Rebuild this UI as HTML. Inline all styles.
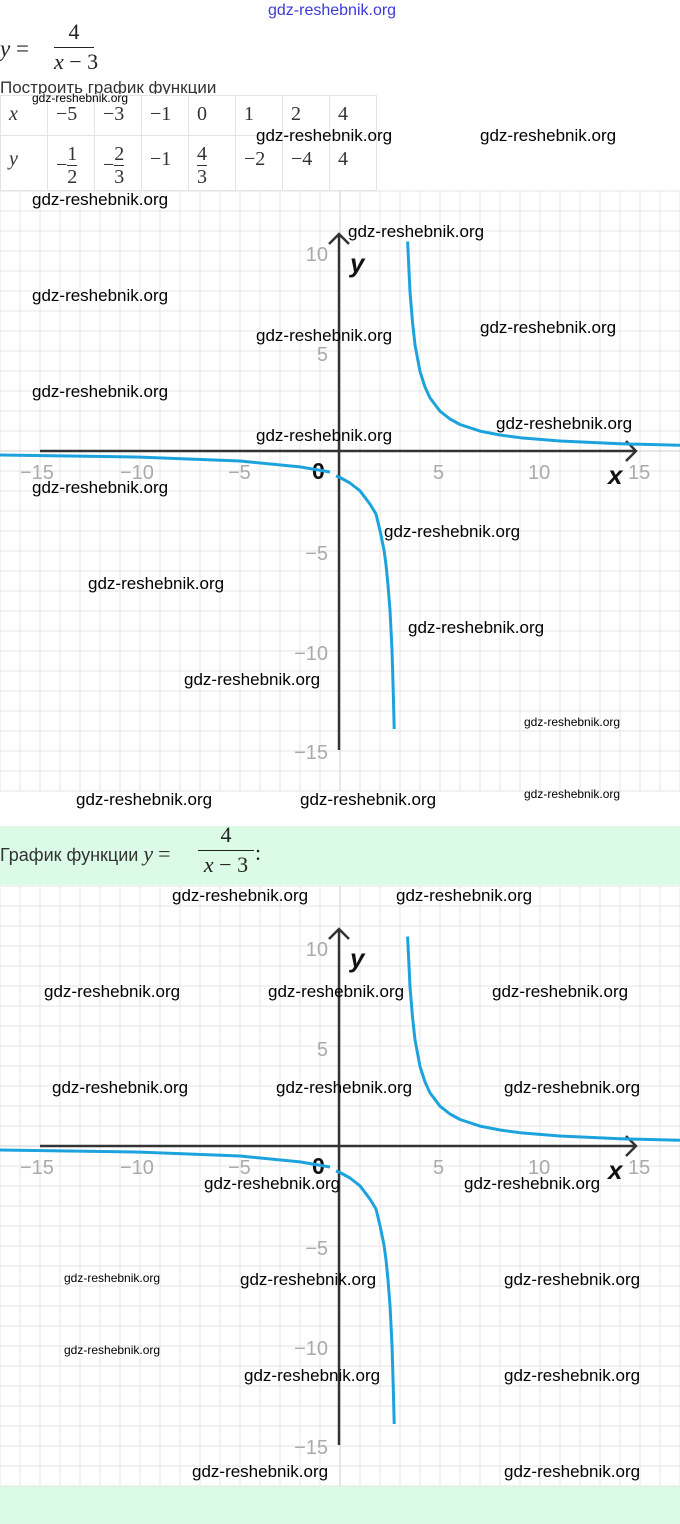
<!DOCTYPE html>
<html><head><meta charset="utf-8"><style>
html,body{margin:0;padding:0;background:#fff;width:680px;height:1524px;overflow:hidden;position:relative;font-family:"Liberation Sans",sans-serif}
.a{position:absolute;white-space:nowrap}
.w{position:absolute;font-size:17px;color:#000;white-space:nowrap;line-height:20px}
.s{font-size:12px;line-height:14px}
.m{font-family:"Liberation Serif",serif}
.i{font-style:italic}
table{position:absolute;left:0;top:95px;border-collapse:collapse;font-family:"Liberation Serif",serif;font-size:20px;color:#333}
td{border:1px solid #e4e4e4;vertical-align:top;padding:7px 0 0 8px}
.f{display:inline-block;text-align:center;line-height:22px;font-size:20px}
.f span{border-top:1px solid #333;display:block}
</style></head><body>
<svg width="680" height="1524" style="position:absolute;left:0;top:0">
<rect x="0" y="826" width="680" height="59" fill="#dcfbe6"/>
<rect x="0" y="1486" width="680" height="38" fill="#dcfbe6"/>
<g>
<g stroke="#e6e6e6" stroke-width="1">
<path d="M0 191V791M20 191V791M40 191V791M60 191V791M80 191V791M100 191V791M120 191V791M140 191V791M160 191V791M180 191V791M200 191V791M220 191V791M240 191V791M260 191V791M280 191V791M300 191V791M320 191V791M360 191V791M380 191V791M400 191V791M420 191V791M440 191V791M460 191V791M480 191V791M500 191V791M520 191V791M540 191V791M560 191V791M580 191V791M600 191V791M620 191V791M640 191V791M660 191V791M680 191V791"/>
<path d="M0 191H680M0 211H680M0 231H680M0 251H680M0 271H680M0 291H680M0 311H680M0 331H680M0 351H680M0 371H680M0 391H680M0 411H680M0 431H680M0 471H680M0 491H680M0 511H680M0 531H680M0 551H680M0 571H680M0 591H680M0 611H680M0 631H680M0 651H680M0 671H680M0 691H680M0 711H680M0 731H680M0 751H680M0 771H680M0 791H680"/>
</g>
<path d="M340 191V791M0 451H680" stroke="#cfcfcf"/>
<path d="M40 451H636M626 441L636 451L626 461" stroke="#333" stroke-width="2.5" fill="none"/>
<path d="M339 750V234M329 244L339 234L349 244" stroke="#333" stroke-width="2.5" fill="none"/>
<g fill="#aaa" font-size="20" font-family="Liberation Sans,sans-serif">
<text x="20" y="479">−15</text><text x="120" y="479">−10</text><text x="228" y="479">−5</text><text x="433" y="479">5</text><text x="528" y="479">10</text><text x="628" y="479">15</text>
<text x="328" y="261" text-anchor="end">10</text><text x="328" y="361" text-anchor="end">5</text><text x="328" y="560" text-anchor="end">−5</text><text x="328" y="660" text-anchor="end">−10</text><text x="328" y="759" text-anchor="end">−15</text>
</g>
<text x="312" y="479" font-size="23" font-weight="bold" fill="#111" font-family="Liberation Sans,sans-serif">0</text>
<text x="350" y="272" font-size="26" fill="#111" font-style="italic" font-weight="bold" font-family="Liberation Sans,sans-serif">y</text>
<text x="608" y="484" font-size="26" fill="#111" font-style="italic" font-weight="bold" font-family="Liberation Sans,sans-serif">x</text>
<path d="M407.6 241.5L410 291.8L412.5 322L415 344.9L420 371.4L425 387L430 397.9L440 411.2L450 419L460 424.5L480 431.1L500 435L520 437.7L560 441L620 443.8L680 445.3" stroke="#1ca3de" stroke-width="3" fill="none" stroke-linejoin="round"/>
<path d="M0 455L140 457.1L240 461L300 466.9L330 472M336 476L340 477.5L350 483L360 490.8L370 504.1L376 514L380 530.6L384 550L386 564.7L388 585L390 610.2L392 650L393.2 690L394.2 729" stroke="#1ca3de" stroke-width="3" fill="none" stroke-linejoin="round"/>
</g>
<g transform="translate(0,695)">
<g stroke="#e6e6e6" stroke-width="1">
<path d="M0 191V791M20 191V791M40 191V791M60 191V791M80 191V791M100 191V791M120 191V791M140 191V791M160 191V791M180 191V791M200 191V791M220 191V791M240 191V791M260 191V791M280 191V791M300 191V791M320 191V791M360 191V791M380 191V791M400 191V791M420 191V791M440 191V791M460 191V791M480 191V791M500 191V791M520 191V791M540 191V791M560 191V791M580 191V791M600 191V791M620 191V791M640 191V791M660 191V791M680 191V791"/>
<path d="M0 191H680M0 211H680M0 231H680M0 251H680M0 271H680M0 291H680M0 311H680M0 331H680M0 351H680M0 371H680M0 391H680M0 411H680M0 431H680M0 471H680M0 491H680M0 511H680M0 531H680M0 551H680M0 571H680M0 591H680M0 611H680M0 631H680M0 651H680M0 671H680M0 691H680M0 711H680M0 731H680M0 751H680M0 771H680M0 791H680"/>
</g>
<path d="M340 191V791M0 451H680" stroke="#cfcfcf"/>
<path d="M40 451H636M626 441L636 451L626 461" stroke="#333" stroke-width="2.5" fill="none"/>
<path d="M339 750V234M329 244L339 234L349 244" stroke="#333" stroke-width="2.5" fill="none"/>
<g fill="#aaa" font-size="20" font-family="Liberation Sans,sans-serif">
<text x="20" y="479">−15</text><text x="120" y="479">−10</text><text x="228" y="479">−5</text><text x="433" y="479">5</text><text x="528" y="479">10</text><text x="628" y="479">15</text>
<text x="328" y="261" text-anchor="end">10</text><text x="328" y="361" text-anchor="end">5</text><text x="328" y="560" text-anchor="end">−5</text><text x="328" y="660" text-anchor="end">−10</text><text x="328" y="759" text-anchor="end">−15</text>
</g>
<text x="312" y="479" font-size="23" font-weight="bold" fill="#111" font-family="Liberation Sans,sans-serif">0</text>
<text x="350" y="272" font-size="26" fill="#111" font-style="italic" font-weight="bold" font-family="Liberation Sans,sans-serif">y</text>
<text x="608" y="484" font-size="26" fill="#111" font-style="italic" font-weight="bold" font-family="Liberation Sans,sans-serif">x</text>
<path d="M407.6 241.5L410 291.8L412.5 322L415 344.9L420 371.4L425 387L430 397.9L440 411.2L450 419L460 424.5L480 431.1L500 435L520 437.7L560 441L620 443.8L680 445.3" stroke="#1ca3de" stroke-width="3" fill="none" stroke-linejoin="round"/>
<path d="M0 455L140 457.1L240 461L300 466.9L330 472M336 476L340 477.5L350 483L360 490.8L370 504.1L376 514L380 530.6L384 550L386 564.7L388 585L390 610.2L392 650L393.2 690L394.2 729" stroke="#1ca3de" stroke-width="3" fill="none" stroke-linejoin="round"/>
</g>
</svg>

<div class="a" style="left:268px;top:2px;font-size:16px;color:#3b3bd8">gdz-reshebnik.org</div>
<div class="a m i" style="left:0;top:36px;font-size:23px;color:#222">y <span style="font-style:normal">=</span></div>
<div class="a m" style="left:54px;top:20px;width:40px;text-align:center;font-size:22px;color:#222;line-height:24px">4<div style="border-top:1.5px solid #222;margin:3px 0 2px"></div><i>x</i> − 3</div>
<div class="a" style="left:0;top:78px;font-size:17px;color:#333;height:16px;overflow:hidden">Построить график функции</div>
<table>
<tr style="height:40px"><td style="width:38px"><i>x</i></td><td style="width:38px">−5</td><td style="width:38px">−3</td><td style="width:38px">−1</td><td style="width:38px">0</td><td style="width:38px">1</td><td style="width:38px">2</td><td style="width:38px">4</td></tr>
<tr style="height:55px"><td style="padding-top:12px"><i>y</i></td>
<td><span style="display:inline-flex;align-items:center">−<span class="f">1<span>2</span></span></span></td>
<td><span style="display:inline-flex;align-items:center">−<span class="f">2<span>3</span></span></span></td>
<td style="padding-top:12px">−1</td>
<td><span class="f">4<span>3</span></span></td>
<td style="padding-top:12px">−2</td><td style="padding-top:12px">−4</td><td style="padding-top:12px">4</td></tr>
</table>

<div class="a" style="left:0;top:841px;font-size:18px;color:#333">График функции <span class="m i" style="font-size:22px">y</span> <span class="m" style="font-size:22px">=</span></div>
<div class="a m" style="left:198px;top:823px;width:56px;text-align:center;font-size:22px;color:#222;line-height:24px">4<div style="border-top:1.5px solid #222;margin:3px 0 2px"></div><i>x</i> − 3</div>
<div class="a m" style="left:255px;top:840px;font-size:22px;color:#222">:</div>

<div class="w s" style="left:32px;top:91px">gdz-reshebnik.org</div>
<div class="w" style="left:256px;top:126px">gdz-reshebnik.org</div>
<div class="w" style="left:480px;top:126px">gdz-reshebnik.org</div>
<div class="w" style="left:32px;top:190px">gdz-reshebnik.org</div>
<div class="w" style="left:348px;top:222px">gdz-reshebnik.org</div>
<div class="w" style="left:32px;top:286px">gdz-reshebnik.org</div>
<div class="w" style="left:256px;top:326px">gdz-reshebnik.org</div>
<div class="w" style="left:480px;top:318px">gdz-reshebnik.org</div>
<div class="w" style="left:32px;top:382px">gdz-reshebnik.org</div>
<div class="w" style="left:256px;top:426px">gdz-reshebnik.org</div>
<div class="w" style="left:496px;top:414px">gdz-reshebnik.org</div>
<div class="w" style="left:32px;top:478px">gdz-reshebnik.org</div>
<div class="w" style="left:384px;top:522px">gdz-reshebnik.org</div>
<div class="w" style="left:88px;top:574px">gdz-reshebnik.org</div>
<div class="w" style="left:408px;top:618px">gdz-reshebnik.org</div>
<div class="w" style="left:184px;top:670px">gdz-reshebnik.org</div>
<div class="w s" style="left:524px;top:715px">gdz-reshebnik.org</div>
<div class="w" style="left:76px;top:790px">gdz-reshebnik.org</div>
<div class="w" style="left:300px;top:790px">gdz-reshebnik.org</div>
<div class="w s" style="left:524px;top:787px">gdz-reshebnik.org</div>

<div class="w" style="left:172px;top:886px">gdz-reshebnik.org</div>
<div class="w" style="left:396px;top:886px">gdz-reshebnik.org</div>
<div class="w" style="left:44px;top:982px">gdz-reshebnik.org</div>
<div class="w" style="left:268px;top:982px">gdz-reshebnik.org</div>
<div class="w" style="left:492px;top:982px">gdz-reshebnik.org</div>
<div class="w" style="left:52px;top:1078px">gdz-reshebnik.org</div>
<div class="w" style="left:276px;top:1078px">gdz-reshebnik.org</div>
<div class="w" style="left:504px;top:1078px">gdz-reshebnik.org</div>
<div class="w" style="left:204px;top:1174px">gdz-reshebnik.org</div>
<div class="w" style="left:464px;top:1174px">gdz-reshebnik.org</div>
<div class="w s" style="left:64px;top:1271px">gdz-reshebnik.org</div>
<div class="w" style="left:240px;top:1270px">gdz-reshebnik.org</div>
<div class="w" style="left:504px;top:1270px">gdz-reshebnik.org</div>
<div class="w s" style="left:64px;top:1343px">gdz-reshebnik.org</div>
<div class="w" style="left:244px;top:1366px">gdz-reshebnik.org</div>
<div class="w" style="left:504px;top:1366px">gdz-reshebnik.org</div>
<div class="w" style="left:192px;top:1462px">gdz-reshebnik.org</div>
<div class="w" style="left:504px;top:1462px">gdz-reshebnik.org</div>
</body></html>
